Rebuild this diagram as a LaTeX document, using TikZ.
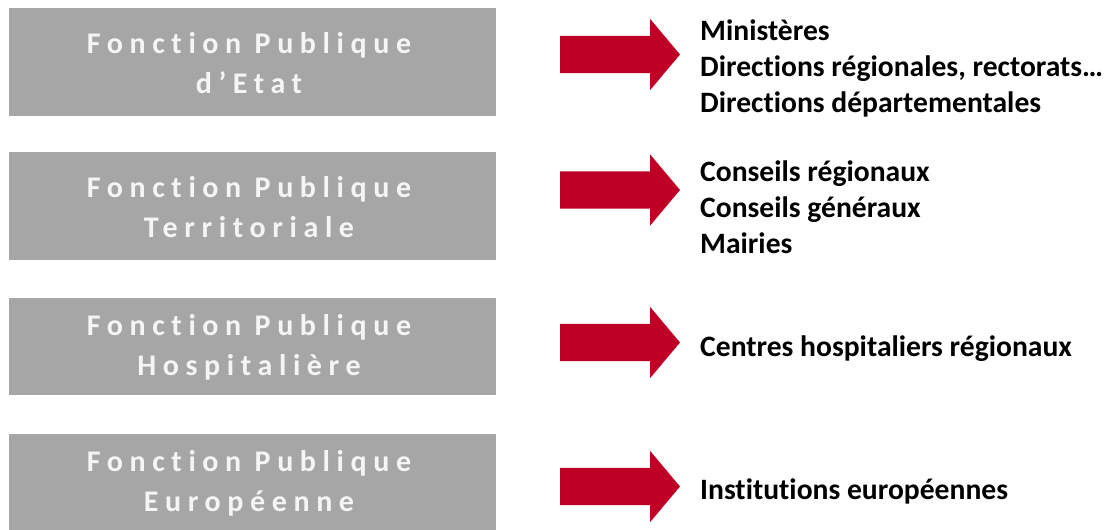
\documentclass[tikz,border=0pt]{standalone}
\usepackage{fontspec}
\setmainfont[Ligatures={NoCommon}]{Carlito}
\usetikzlibrary{shapes.arrows}
\definecolor{boxgrey}{RGB}{166,166,166}
\definecolor{arrowred}{RGB}{190,0,38}
\definecolor{boxtext}{RGB}{245,245,245}
\newfontfamily\spacedfont[LetterSpace=22,Ligatures={NoCommon}]{Carlito}
\tikzset{
  x=1pt, y=-1pt,
  catbox/.style={fill=boxgrey, draw=none, inner sep=0pt, outer sep=0pt},
  cattext/.style={text=boxtext, align=center, inner sep=0pt,
    font=\spacedfont\bfseries\fontsize{30}{40}\selectfont},
  redarrow/.style={single arrow, fill=arrowred, draw=none, inner xsep=0pt, inner ysep=18.5pt, outer sep=0pt,
    minimum height=120pt, single arrow head extend=17pt,
    single arrow tip angle=100, anchor=tail},
  listtext/.style={text=black, align=left, anchor=west, inner sep=0pt,
    font=\bfseries\fontsize{29.6}{36}\selectfont}
}
\begin{document}
\begin{tikzpicture}
\useasboundingbox (0,0) rectangle (1106,530);
% boxes
\node[catbox, minimum width=487pt, minimum height=108pt] (box1) at (252.5,62) {};
\node[catbox, minimum width=487pt, minimum height=108pt] (box2) at (252.5,206) {};
\node[catbox, minimum width=487pt, minimum height=97pt] (box3) at (252.5,346.5) {};
\node[catbox, minimum width=487pt, minimum height=97pt] (box4) at (252.5,482.5) {};
\node[cattext] (t1) at (249,63) {Fonction Publique\\d’Etat};
\node[cattext] (t2) at (249,207) {Fonction Publique\\Territoriale};
\node[cattext] (t3) at (249,347) {Fonction Publique\\Hospitalière};
\node[cattext] (t4) at (249,483) {Fonction Publique\\Européenne};
% arrows
\node[redarrow] (a1) at (560,54.5) {};
\node[redarrow] (a2) at (560,190) {};
\node[redarrow] (a3) at (560,342.5) {};
\node[redarrow] (a4) at (560,486.5) {};
% lists
\node[listtext] (l1) at (700,68) {Ministères\\Directions régionales, rectorats…\\Directions départementales};
\node[listtext] (l2) at (700,207) {Conseils régionaux\\Conseils généraux\\Mairies};
\node[listtext] (l3) at (700,349) {Centres hospitaliers régionaux};
\node[listtext] (l4) at (700,491) {Institutions européennes};
\end{tikzpicture}
\end{document}
